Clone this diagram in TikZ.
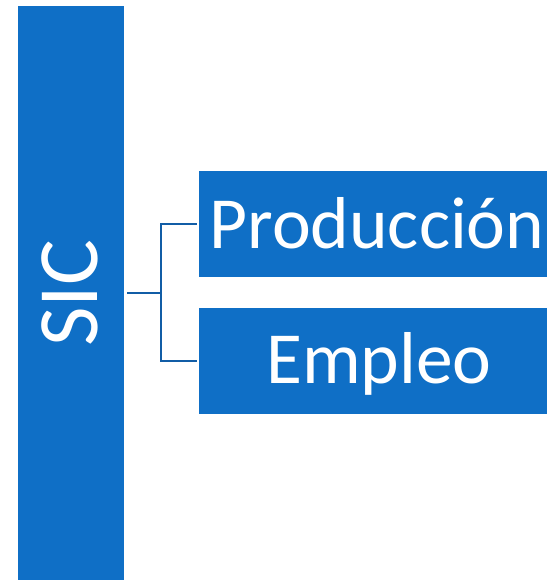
\documentclass[tikz,border=0pt]{standalone}
\usepackage{fontspec}
\setmainfont{Carlito}
\definecolor{boxblue}{HTML}{0F6FC6}
\definecolor{lineblue}{HTML}{115DA6}
\begin{document}
\begin{tikzpicture}[x=1pt,y=-1pt,
  blk/.style={fill=boxblue,draw=none,inner sep=0pt,text=white},
  conn/.style={draw=lineblue,line width=2.4pt}]
\useasboundingbox (0,0) rectangle (547,582);
\node[blk,minimum width=106pt,minimum height=574pt] (sic) at (71,293) {};
\node[text=white,rotate=90,font=\fontsize{86}{86}\selectfont,inner sep=0pt] (sict) at (70,293) {SIC};
\node[blk,minimum width=348pt,minimum height=106pt] (prod) at (373,224) {};
\node[text=white,font=\fontsize{73.5}{73.5}\selectfont,inner sep=0pt,anchor=base] (prodt) at (377,248) {Producción};
\node[blk,minimum width=348pt,minimum height=106pt] (emp) at (373,361) {};
\node[text=white,font=\fontsize{73.5}{73.5}\selectfont,inner sep=0pt,anchor=base] (empt) at (379,383) {Empleo};
\coordinate (j) at (161,293);
\draw[conn] ([xshift=3pt]sic.east) -- (j);
\draw[conn] (j) |- ([xshift=-2pt]prod.west);
\draw[conn] (j) |- ([xshift=-2pt]emp.west);
\end{tikzpicture}
\end{document}
